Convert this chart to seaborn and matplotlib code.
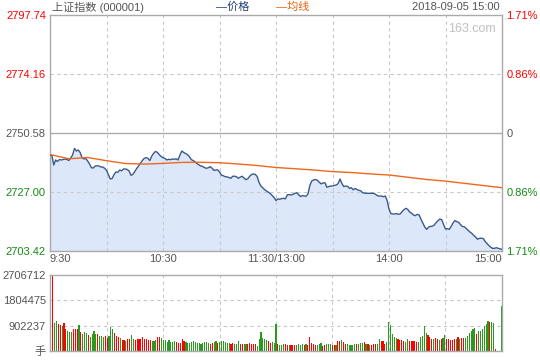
import numpy as np
import pandas as pd
import matplotlib
matplotlib.use("Agg")
import matplotlib.pyplot as plt
import seaborn as sns

# ---------------- data ----------------
price = [
    2741.79, 2741.59, 2737.79, 2739.79, 2739.19, 2739.99, 2739.79, 2739.99, 2740.19, 2739.99,
    2739.59, 2740.59, 2741.79, 2744.39, 2743.39, 2743.79, 2742.79, 2740.79, 2740.19, 2740.39,
    2739.39, 2738.19, 2736.71, 2736.59, 2737.39, 2737.47, 2737.39, 2736.99, 2736.99, 2736.47,
    2735.67, 2733.99, 2732.19, 2732.39, 2733.99, 2734.99, 2734.87, 2735.79, 2735.47, 2736.19,
    2736.19, 2735.99, 2735.39, 2733.67, 2734.03, 2735.15, 2736.35, 2737.39, 2738.51, 2739.51,
    2740.43, 2740.71, 2740.47, 2739.55, 2741.31, 2742.43, 2743.23, 2742.83, 2741.95, 2741.19,
    2740.71, 2740.43, 2739.79, 2740.07, 2739.91, 2740.19, 2740.07, 2740.27, 2739.79, 2741.79,
    2743.39, 2742.79, 2742.35, 2741.95, 2741.15, 2739.99, 2739.55, 2739.11, 2738.39, 2737.91,
    2737.39, 2737.23, 2736.75, 2736.47, 2736.67, 2737.11, 2736.55, 2735.67, 2735.75, 2735.87,
    2735.03, 2733.75, 2733.51, 2733.11, 2733.07, 2732.79, 2732.47, 2733.27, 2733.31, 2733.11,
    2732.47, 2732.95, 2733.27, 2732.59, 2731.95, 2732.27, 2733.27, 2733.99, 2734.19, 2734.03,
    2733.19, 2730.79, 2729.39, 2728.67, 2727.91, 2727.39, 2726.87, 2726.35, 2725.59, 2724.79,
    2723.59, 2724.27, 2724.07, 2724.39, 2724.47, 2724.27, 2725.87, 2725.99, 2725.79, 2726.07,
    2726.43, 2726.71, 2725.95, 2725.19, 2725.55, 2725.39, 2725.31, 2726.27, 2729.67, 2731.39,
    2731.83, 2731.99, 2731.67, 2730.87, 2730.27, 2730.59, 2730.71, 2728.91, 2729.15, 2729.39,
    2729.39, 2729.63, 2729.79, 2730.35, 2732.19, 2730.35, 2729.19, 2729.39, 2729.27, 2728.43,
    2728.71, 2727.87, 2728.43, 2727.99, 2727.67, 2727.47, 2726.71, 2726.55, 2726.47, 2726.47,
    2726.47, 2726.47, 2726.47, 2725.99, 2725.47, 2725.39, 2725.39, 2725.11, 2725.39, 2723.59,
    2720.19, 2718.35, 2718.23, 2718.19, 2718.39, 2718.07, 2718.27, 2719.19, 2719.99, 2720.47,
    2719.99, 2718.99, 2718.51, 2717.79, 2717.55, 2718.07, 2717.83, 2716.07, 2714.51, 2712.99,
    2712.07, 2712.95, 2713.23, 2713.35, 2713.75, 2714.75, 2715.51, 2716.19, 2715.91, 2713.95,
    2712.19, 2712.35, 2712.07, 2713.23, 2714.63, 2715.59, 2715.15, 2714.87, 2713.95, 2713.19,
    2713.11, 2712.39, 2711.63, 2710.99, 2710.43, 2709.63, 2708.99, 2708.11, 2708.47, 2708.51,
    2708.43, 2707.31, 2706.43, 2705.63, 2704.95, 2704.47, 2704.47, 2704.75, 2704.47, 2704.27,
    2704.07,
]

avg_minutes = list(range(0, 241, 10))
avg_price = [2741.99, 2740.27, 2740.79, 2739.51, 2738.39, 2738.15, 2738.43, 2738.83,
             2738.87, 2738.71, 2738.19, 2737.59, 2736.79, 2736.31, 2735.79, 2735.15,
             2734.79, 2734.23, 2733.79, 2732.91, 2731.99, 2731.35, 2730.47, 2729.59,
             2728.71]

volume_k = [
    851, 2707, 993, 1064, 957, 922, 898, 993, 780, 709,
    686, 674, 780, 780, 780, 922, 686, 615, 674, 638,
    567, 496, 615, 709, 603, 603, 532, 532, 508, 532,
    461, 532, 851, 780, 638, 532, 496, 461, 390, 390,
    355, 426, 426, 567, 426, 390, 426, 426, 426, 496,
    426, 426, 390, 390, 355, 355, 390, 496, 496, 461,
    390, 390, 319, 390, 319, 319, 355, 319, 284, 284,
    426, 355, 319, 284, 284, 319, 355, 319, 284, 284,
    248, 284, 319, 319, 284, 248, 284, 319, 355, 284,
    319, 355, 355, 319, 284, 284, 248, 284, 248, 248,
    355, 248, 248, 248, 248, 248, 284, 248, 248, 248,
    177, 426, 674, 461, 426, 390, 355, 284, 319, 284,
    957, 248, 213, 213, 248, 248, 213, 213, 213, 213,
    213, 213, 248, 213, 248, 213, 248, 213, 496, 284,
    248, 213, 213, 248, 284, 177, 213, 248, 248, 248,
    213, 213, 213, 355, 355, 390, 319, 248, 248, 213,
    213, 213, 248, 248, 248, 284, 284, 319, 248, 248,
    213, 213, 248, 248, 248, 426, 355, 355, 248, 319,
    1028, 910, 603, 496, 461, 426, 390, 390, 355, 319,
    426, 355, 355, 355, 355, 319, 319, 496, 532, 887,
    638, 567, 496, 426, 426, 461, 426, 390, 426, 461,
    567, 426, 426, 390, 390, 426, 426, 496, 426, 461,
    461, 461, 532, 638, 709, 780, 816, 603, 709, 709,
    780, 887, 957, 1064, 1028, 1028, 993, 71, 0, 0,
    1596,
]

direction = list(
    "grggrrgrrg" "ggrrrgrggg" "rggggrgggr" "rgggrrrgrr" "grrggrrrrr"
    "rrrrgggrrg" "gggggggrrr" "rrgggggggg" "gggggrrggr" "ggggggrrgg"
    "grrggrrrrr" "ggggggrrgg" "grgggrrgrr" "rggggrgrrr" "rrgggrrggg"
    "rrgrrgrrgg" "gggrgggrgr" "grrrggrrrg" "gggggrrrrg" "grrrrrgggg"
    "grrrgrrgrg" "grrrrrgrgr" "rggggggrgg" "ggggrggrgg" "g"
)

price_ticks = [2703.42, 2727.00, 2750.58, 2774.16, 2797.74]
price_tick_labels = ["2703.42", "2727.00", "2750.58", "2774.16", "2797.74"]
pct_tick_labels = ["1.71%", "0.86%", "0", "0.86%", "1.71%"]
vol_ticks = [902237, 1804475, 2706712]
vol_tick_labels = ["902237", "1804475", "2706712"]
time_ticks = [0, 60, 120, 180, 240]
time_labels = ["9:30", "10:30", "11:30/13:00", "14:00", "15:00"]

# ---------------- style ----------------
sns.set_style("white")
plt.rcParams["font.family"] = ["Liberation Sans", "Noto Sans CJK SC", "DejaVu Sans"]

RED = "#ff0000"
GREEN = "#138a13"
GRAY_TXT = "#555555"
BORDER = "#aaaaaa"
GRID = "#c8c8c8"
LINE_BLUE = "#3a5a8c"
FILL_BLUE = "#dce8fa"
ORANGE = "#f0661a"
VOL_GREEN = "#2a9a1f"

minutes = np.arange(len(price))
df = pd.DataFrame({"minute": minutes, "price": price,
                   "vol": np.array(volume_k) * 1000, "dir": direction})

fig = plt.figure(figsize=(5.4, 3.6), dpi=100)
L, R = 50 / 540, 502 / 540
ax = fig.add_axes([L, 1 - 251 / 360, R - L, 236 / 360])
axv = fig.add_axes([L, 1 - 351 / 360, R - L, 76 / 360])

ymin, ymax = price_ticks[0], price_ticks[-1]

# ---- main price chart ----
ax.fill_between(df["minute"], df["price"], ymin, color=FILL_BLUE, linewidth=0, zorder=1)
sns.lineplot(data=df, x="minute", y="price", ax=ax, color=LINE_BLUE, linewidth=1.0, zorder=4)
sns.lineplot(x=avg_minutes, y=avg_price, ax=ax, color=ORANGE, linewidth=1.0, zorder=5)

ax.set_xlim(0, 240)
ax.set_ylim(ymin, ymax)
for v in [price_ticks[1], price_ticks[3]]:
    ax.axhline(v, color=GRID, linestyle=(0, (3, 3)), linewidth=0.8, zorder=2)
ax.axhline(price_ticks[2], color=BORDER, linewidth=1.0, zorder=2)
for m in range(30, 240, 30):
    ax.axvline(m, color=GRID, linestyle=(0, (3, 3)), linewidth=0.8, zorder=2)

for s in ax.spines.values():
    s.set_color(BORDER)
    s.set_linewidth(1.0)

ax.set_yticks(price_ticks)
ax.set_yticklabels(price_tick_labels, fontsize=8)
left_colors = [GREEN, GREEN, GRAY_TXT, RED, RED]
for lbl, c in zip(ax.get_yticklabels(), left_colors):
    lbl.set_color(c)
ax.tick_params(axis="y", length=0, pad=3)

ax.set_xticks(time_ticks)
ax.set_xticklabels(time_labels, fontsize=8, color=GRAY_TXT)
ax.tick_params(axis="x", length=0, pad=2)
xl = ax.get_xticklabels()
xl[0].set_horizontalalignment("left")
xl[-1].set_horizontalalignment("right")
ax.set_xlabel("")
ax.set_ylabel("")

ax2 = ax.twinx()
ax2.set_ylim(ymin, ymax)
ax2.set_yticks(price_ticks)
ax2.set_yticklabels(pct_tick_labels, fontsize=8)
for lbl, c in zip(ax2.get_yticklabels(), left_colors):
    lbl.set_color(c)
ax2.tick_params(axis="y", length=0, pad=3)
for s in ax2.spines.values():
    s.set_visible(False)
ax2.grid(False)

ax.text(0.985, 0.965, "163.com", transform=ax.transAxes, ha="right", va="top",
        fontsize=9, color="#c0c0c0")

# ---- header ----
fig.text(52 / 540, 1 - 7 / 360, "上证指数 (000001)", ha="left", va="center",
         fontsize=8, color=GRAY_TXT)
fig.text(216 / 540, 1 - 7 / 360, "—价格", ha="left", va="center",
         fontsize=8, color="#1f3f73")
fig.text(276 / 540, 1 - 7 / 360, "—均线", ha="left", va="center",
         fontsize=8, color="#e8600a")
fig.text(500 / 540, 1 - 7 / 360, "2018-09-05 15:00", ha="right", va="center",
         fontsize=8, color=GRAY_TXT)

# ---- volume chart ----
sns.barplot(data=df, x="minute", y="vol", hue="dir", ax=axv,
            palette={"r": RED, "g": VOL_GREEN}, dodge=False, width=0.6,
            legend=False, saturation=1, linewidth=0)
axv.set_xlim(-0.45, 240.45)
axv.set_ylim(0, vol_ticks[-1])
for v in vol_ticks[:2]:
    axv.axhline(v, color=GRID, linestyle=(0, (3, 3)), linewidth=0.8, zorder=0)
for m in range(30, 240, 30):
    axv.axvline(m, color=GRID, linestyle=(0, (3, 3)), linewidth=0.8, zorder=0)
for s in axv.spines.values():
    s.set_color(BORDER)
    s.set_linewidth(1.0)
axv.set_xticks([])
axv.set_yticks([0] + vol_ticks)
axv.set_yticklabels(["手"] + vol_tick_labels, fontsize=8, color=GRAY_TXT)
axv.tick_params(axis="y", length=0, pad=3)
axv.set_xlabel("")
axv.set_ylabel("")

fig.savefig("out.png", dpi=100)
